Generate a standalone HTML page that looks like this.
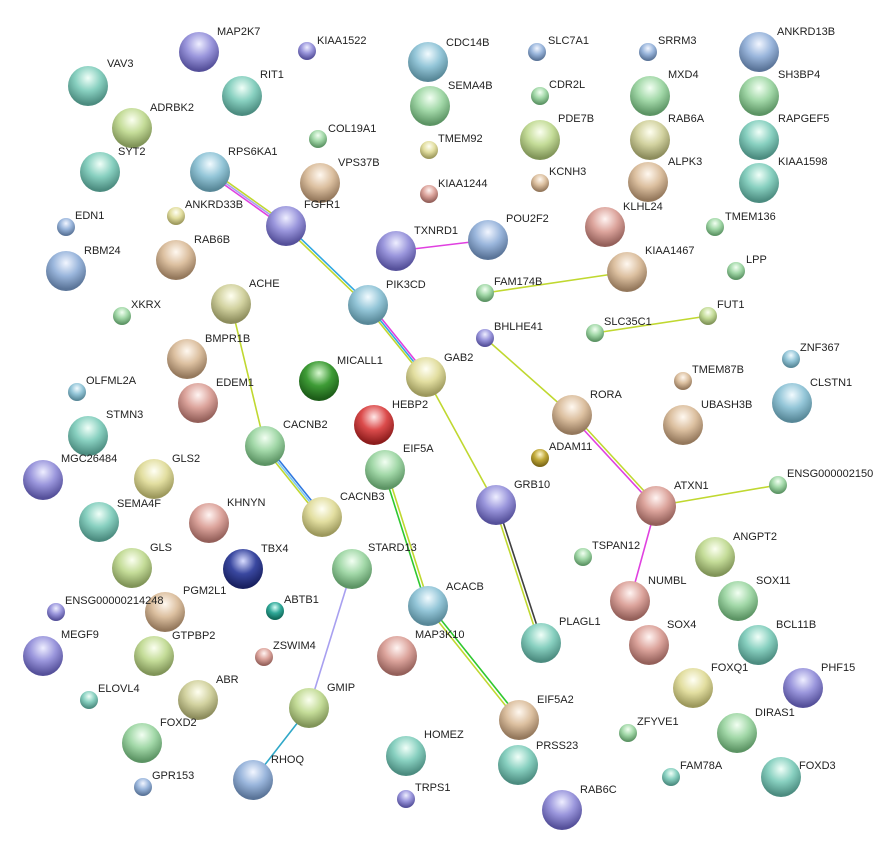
<!DOCTYPE html>
<html><head><meta charset="utf-8"><style>
html,body{margin:0;padding:0;background:#fff;}
svg{display:block;}
text{font-family:"Liberation Sans",Arial,sans-serif;font-size:11px;fill:#222;}
</style></head><body>
<svg width="873" height="856" viewBox="0 0 873 856" xmlns="http://www.w3.org/2000/svg">
<defs>
<radialGradient id="pu" cx="50%" cy="30%" r="65%"><stop offset="0" stop-color="#eeeeff"/><stop offset="0.5" stop-color="#9a96dc"/><stop offset="1" stop-color="#55509a"/></radialGradient>
<radialGradient id="bl" cx="50%" cy="30%" r="65%"><stop offset="0" stop-color="#f2f6ff"/><stop offset="0.5" stop-color="#9ab6dc"/><stop offset="1" stop-color="#5a7498"/></radialGradient>
<radialGradient id="tb" cx="50%" cy="30%" r="65%"><stop offset="0" stop-color="#f2fbff"/><stop offset="0.5" stop-color="#94c6d8"/><stop offset="1" stop-color="#588898"/></radialGradient>
<radialGradient id="te" cx="50%" cy="30%" r="65%"><stop offset="0" stop-color="#f0fff8"/><stop offset="0.5" stop-color="#88d0c0"/><stop offset="1" stop-color="#4c8c80"/></radialGradient>
<radialGradient id="gr" cx="50%" cy="30%" r="65%"><stop offset="0" stop-color="#f2fff2"/><stop offset="0.5" stop-color="#a2d8a8"/><stop offset="1" stop-color="#5c9464"/></radialGradient>
<radialGradient id="yg" cx="50%" cy="30%" r="65%"><stop offset="0" stop-color="#fbfff0"/><stop offset="0.5" stop-color="#c4dc98"/><stop offset="1" stop-color="#809458"/></radialGradient>
<radialGradient id="kh" cx="50%" cy="30%" r="65%"><stop offset="0" stop-color="#fffff0"/><stop offset="0.5" stop-color="#d2d2a0"/><stop offset="1" stop-color="#8c8c5c"/></radialGradient>
<radialGradient id="ye" cx="50%" cy="30%" r="65%"><stop offset="0" stop-color="#fffff4"/><stop offset="0.5" stop-color="#e2dea0"/><stop offset="1" stop-color="#9c985c"/></radialGradient>
<radialGradient id="ta" cx="50%" cy="30%" r="65%"><stop offset="0" stop-color="#fff8f0"/><stop offset="0.5" stop-color="#dcc0a0"/><stop offset="1" stop-color="#94785c"/></radialGradient>
<radialGradient id="sa" cx="50%" cy="30%" r="65%"><stop offset="0" stop-color="#fff4f2"/><stop offset="0.5" stop-color="#dca49c"/><stop offset="1" stop-color="#94605a"/></radialGradient>
<radialGradient id="re" cx="50%" cy="30%" r="65%"><stop offset="0" stop-color="#ffe8e8"/><stop offset="0.5" stop-color="#dc4c4c"/><stop offset="1" stop-color="#8c1c1c"/></radialGradient>
<radialGradient id="dg" cx="50%" cy="30%" r="65%"><stop offset="0" stop-color="#d8f8d0"/><stop offset="0.5" stop-color="#3e9c36"/><stop offset="1" stop-color="#1c5c18"/></radialGradient>
<radialGradient id="nv" cx="50%" cy="30%" r="65%"><stop offset="0" stop-color="#d8dcff"/><stop offset="0.5" stop-color="#3a48a0"/><stop offset="1" stop-color="#182060"/></radialGradient>
<radialGradient id="ol" cx="50%" cy="30%" r="65%"><stop offset="0" stop-color="#fff8d0"/><stop offset="0.5" stop-color="#c0a838"/><stop offset="1" stop-color="#7c6818"/></radialGradient>
<radialGradient id="at" cx="50%" cy="30%" r="65%"><stop offset="0" stop-color="#d8fff8"/><stop offset="0.5" stop-color="#30a898"/><stop offset="1" stop-color="#106858"/></radialGradient>
</defs>

<!-- edges -->
<g stroke-width="1.6" fill="none">
<line x1="211.2" y1="170.4" x2="287.2" y2="224.4" stroke="#c0d830"/>
<line x1="210" y1="172" x2="286" y2="226" stroke="#a8a0f0"/>
<line x1="208.8" y1="173.6" x2="284.8" y2="227.6" stroke="#e040e0"/>
<line x1="285.2" y1="226.9" x2="367.2" y2="305.9" stroke="#c0d830"/>
<line x1="286.8" y1="225.1" x2="368.8" y2="304.1" stroke="#30a8e0"/>
<line x1="366.4" y1="306.3" x2="424.4" y2="378.3" stroke="#c0d830"/>
<line x1="368" y1="305" x2="426" y2="377" stroke="#30a8e0"/>
<line x1="369.6" y1="303.7" x2="427.6" y2="375.7" stroke="#e040e0"/>
<line x1="426" y1="377" x2="496" y2="505" stroke="#c0d830"/>
<line x1="494.6" y1="505.5" x2="539.6" y2="643.5" stroke="#c0d830"/>
<line x1="497.4" y1="504.5" x2="542.4" y2="642.5" stroke="#404040"/>
<line x1="383.6" y1="470.5" x2="426.6" y2="606.5" stroke="#30c830"/>
<line x1="386.4" y1="469.5" x2="429.4" y2="605.5" stroke="#c0d830"/>
<line x1="426.8" y1="607" x2="517.8" y2="721" stroke="#c0d830"/>
<line x1="429.2" y1="605" x2="520.2" y2="719" stroke="#30c830"/>
<line x1="263.4" y1="447.3" x2="320.4" y2="518.3" stroke="#c0d830"/>
<line x1="265" y1="446" x2="322" y2="517" stroke="#80c8f0"/>
<line x1="266.6" y1="444.7" x2="323.6" y2="515.7" stroke="#3078e0"/>
<line x1="231" y1="304" x2="265" y2="446" stroke="#c0d830"/>
<line x1="396" y1="251" x2="488" y2="240" stroke="#e040e0"/>
<line x1="485" y1="293" x2="627" y2="272" stroke="#c0d830"/>
<line x1="595" y1="333" x2="708" y2="316" stroke="#c0d830"/>
<line x1="485" y1="338" x2="572" y2="415" stroke="#c0d830"/>
<line x1="571" y1="416" x2="655" y2="507" stroke="#e040e0"/>
<line x1="573" y1="414" x2="657" y2="505" stroke="#c0d830"/>
<line x1="656" y1="506" x2="778" y2="485" stroke="#c0d830"/>
<line x1="656" y1="506" x2="630" y2="601" stroke="#e040e0"/>
<line x1="352" y1="569" x2="309" y2="708" stroke="#a8a0f0"/>
<line x1="309" y1="708" x2="253" y2="780" stroke="#30a8c8"/>
</g>

<!-- nodes -->
<g stroke="none">
<circle cx="199" cy="52" r="20" fill="url(#pu)"/>
<circle cx="307" cy="51" r="9" fill="url(#pu)"/>
<circle cx="428" cy="62" r="20" fill="url(#tb)"/>
<circle cx="537" cy="52" r="9" fill="url(#bl)"/>
<circle cx="648" cy="52" r="9" fill="url(#bl)"/>
<circle cx="759" cy="52" r="20" fill="url(#bl)"/>
<circle cx="88" cy="86" r="20" fill="url(#te)"/>
<circle cx="242" cy="96" r="20" fill="url(#te)"/>
<circle cx="430" cy="106" r="20" fill="url(#gr)"/>
<circle cx="540" cy="96" r="9" fill="url(#gr)"/>
<circle cx="650" cy="96" r="20" fill="url(#gr)"/>
<circle cx="759" cy="96" r="20" fill="url(#gr)"/>
<circle cx="132" cy="128" r="20" fill="url(#yg)"/>
<circle cx="318" cy="139" r="9" fill="url(#gr)"/>
<circle cx="540" cy="140" r="20" fill="url(#yg)"/>
<circle cx="650" cy="140" r="20" fill="url(#kh)"/>
<circle cx="759" cy="140" r="20" fill="url(#te)"/>
<circle cx="100" cy="172" r="20" fill="url(#te)"/>
<circle cx="210" cy="172" r="20" fill="url(#tb)"/>
<circle cx="320" cy="183" r="20" fill="url(#ta)"/>
<circle cx="429" cy="150" r="9" fill="url(#ye)"/>
<circle cx="540" cy="183" r="9" fill="url(#ta)"/>
<circle cx="648" cy="182" r="20" fill="url(#ta)"/>
<circle cx="759" cy="183" r="20" fill="url(#te)"/>
<circle cx="429" cy="194" r="9" fill="url(#sa)"/>
<circle cx="176" cy="216" r="9" fill="url(#ye)"/>
<circle cx="286" cy="226" r="20" fill="url(#pu)"/>
<circle cx="396" cy="251" r="20" fill="url(#pu)"/>
<circle cx="488" cy="240" r="20" fill="url(#bl)"/>
<circle cx="605" cy="227" r="20" fill="url(#sa)"/>
<circle cx="715" cy="227" r="9" fill="url(#gr)"/>
<circle cx="66" cy="227" r="9" fill="url(#bl)"/>
<circle cx="66" cy="271" r="20" fill="url(#bl)"/>
<circle cx="176" cy="260" r="20" fill="url(#ta)"/>
<circle cx="627" cy="272" r="20" fill="url(#ta)"/>
<circle cx="736" cy="271" r="9" fill="url(#gr)"/>
<circle cx="485" cy="293" r="9" fill="url(#gr)"/>
<circle cx="231" cy="304" r="20" fill="url(#kh)"/>
<circle cx="122" cy="316" r="9" fill="url(#gr)"/>
<circle cx="368" cy="305" r="20" fill="url(#tb)"/>
<circle cx="708" cy="316" r="9" fill="url(#yg)"/>
<circle cx="595" cy="333" r="9" fill="url(#gr)"/>
<circle cx="485" cy="338" r="9" fill="url(#pu)"/>
<circle cx="187" cy="359" r="20" fill="url(#ta)"/>
<circle cx="791" cy="359" r="9" fill="url(#tb)"/>
<circle cx="319" cy="381" r="20" fill="url(#dg)"/>
<circle cx="426" cy="377" r="20" fill="url(#ye)"/>
<circle cx="683" cy="381" r="9" fill="url(#ta)"/>
<circle cx="77" cy="392" r="9" fill="url(#tb)"/>
<circle cx="198" cy="403" r="20" fill="url(#sa)"/>
<circle cx="572" cy="415" r="20" fill="url(#ta)"/>
<circle cx="792" cy="403" r="20" fill="url(#tb)"/>
<circle cx="374" cy="425" r="20" fill="url(#re)"/>
<circle cx="683" cy="425" r="20" fill="url(#ta)"/>
<circle cx="88" cy="436" r="20" fill="url(#te)"/>
<circle cx="540" cy="458" r="9" fill="url(#ol)"/>
<circle cx="265" cy="446" r="20" fill="url(#gr)"/>
<circle cx="385" cy="470" r="20" fill="url(#gr)"/>
<circle cx="43" cy="480" r="20" fill="url(#pu)"/>
<circle cx="154" cy="479" r="20" fill="url(#ye)"/>
<circle cx="778" cy="485" r="9" fill="url(#gr)"/>
<circle cx="496" cy="505" r="20" fill="url(#pu)"/>
<circle cx="656" cy="506" r="20" fill="url(#sa)"/>
<circle cx="322" cy="517" r="20" fill="url(#ye)"/>
<circle cx="99" cy="522" r="20" fill="url(#te)"/>
<circle cx="209" cy="523" r="20" fill="url(#sa)"/>
<circle cx="583" cy="557" r="9" fill="url(#gr)"/>
<circle cx="715" cy="557" r="20" fill="url(#yg)"/>
<circle cx="352" cy="569" r="20" fill="url(#gr)"/>
<circle cx="243" cy="569" r="20" fill="url(#nv)"/>
<circle cx="132" cy="568" r="20" fill="url(#yg)"/>
<circle cx="56" cy="612" r="9" fill="url(#pu)"/>
<circle cx="165" cy="612" r="20" fill="url(#ta)"/>
<circle cx="275" cy="611" r="9" fill="url(#at)"/>
<circle cx="428" cy="606" r="20" fill="url(#tb)"/>
<circle cx="630" cy="601" r="20" fill="url(#sa)"/>
<circle cx="738" cy="601" r="20" fill="url(#gr)"/>
<circle cx="43" cy="656" r="20" fill="url(#pu)"/>
<circle cx="154" cy="656" r="20" fill="url(#yg)"/>
<circle cx="264" cy="657" r="9" fill="url(#sa)"/>
<circle cx="397" cy="656" r="20" fill="url(#sa)"/>
<circle cx="541" cy="643" r="20" fill="url(#te)"/>
<circle cx="649" cy="645" r="20" fill="url(#sa)"/>
<circle cx="758" cy="645" r="20" fill="url(#te)"/>
<circle cx="198" cy="700" r="20" fill="url(#kh)"/>
<circle cx="309" cy="708" r="20" fill="url(#yg)"/>
<circle cx="693" cy="688" r="20" fill="url(#ye)"/>
<circle cx="803" cy="688" r="20" fill="url(#pu)"/>
<circle cx="89" cy="700" r="9" fill="url(#te)"/>
<circle cx="519" cy="720" r="20" fill="url(#ta)"/>
<circle cx="628" cy="733" r="9" fill="url(#gr)"/>
<circle cx="737" cy="733" r="20" fill="url(#gr)"/>
<circle cx="142" cy="743" r="20" fill="url(#gr)"/>
<circle cx="406" cy="756" r="20" fill="url(#te)"/>
<circle cx="518" cy="765" r="20" fill="url(#te)"/>
<circle cx="253" cy="780" r="20" fill="url(#bl)"/>
<circle cx="671" cy="777" r="9" fill="url(#te)"/>
<circle cx="781" cy="777" r="20" fill="url(#te)"/>
<circle cx="143" cy="787" r="9" fill="url(#bl)"/>
<circle cx="406" cy="799" r="9" fill="url(#pu)"/>
<circle cx="562" cy="810" r="20" fill="url(#pu)"/>
</g>

<!-- labels -->
<g>
<text x="217" y="35">MAP2K7</text>
<text x="317" y="44">KIAA1522</text>
<text x="446" y="46">CDC14B</text>
<text x="548" y="44">SLC7A1</text>
<text x="658" y="44">SRRM3</text>
<text x="777" y="35">ANKRD13B</text>
<text x="107" y="67">VAV3</text>
<text x="260" y="78">RIT1</text>
<text x="448" y="89">SEMA4B</text>
<text x="549" y="88">CDR2L</text>
<text x="668" y="78">MXD4</text>
<text x="778" y="78">SH3BP4</text>
<text x="150" y="111">ADRBK2</text>
<text x="328" y="132">COL19A1</text>
<text x="558" y="122">PDE7B</text>
<text x="668" y="122">RAB6A</text>
<text x="778" y="122">RAPGEF5</text>
<text x="118" y="155">SYT2</text>
<text x="228" y="155">RPS6KA1</text>
<text x="338" y="166">VPS37B</text>
<text x="438" y="142">TMEM92</text>
<text x="549" y="175">KCNH3</text>
<text x="668" y="165">ALPK3</text>
<text x="778" y="165">KIAA1598</text>
<text x="438" y="187">KIAA1244</text>
<text x="185" y="208">ANKRD33B</text>
<text x="304" y="208">FGFR1</text>
<text x="414" y="234">TXNRD1</text>
<text x="506" y="222">POU2F2</text>
<text x="623" y="210">KLHL24</text>
<text x="725" y="220">TMEM136</text>
<text x="75" y="219">EDN1</text>
<text x="84" y="254">RBM24</text>
<text x="194" y="243">RAB6B</text>
<text x="645" y="254">KIAA1467</text>
<text x="746" y="263">LPP</text>
<text x="494" y="285">FAM174B</text>
<text x="249" y="287">ACHE</text>
<text x="131" y="308">XKRX</text>
<text x="386" y="288">PIK3CD</text>
<text x="717" y="308">FUT1</text>
<text x="604" y="325">SLC35C1</text>
<text x="494" y="330">BHLHE41</text>
<text x="205" y="342">BMPR1B</text>
<text x="800" y="351">ZNF367</text>
<text x="337" y="364">MICALL1</text>
<text x="444" y="361">GAB2</text>
<text x="692" y="373">TMEM87B</text>
<text x="86" y="384">OLFML2A</text>
<text x="216" y="386">EDEM1</text>
<text x="590" y="398">RORA</text>
<text x="810" y="386">CLSTN1</text>
<text x="392" y="408">HEBP2</text>
<text x="701" y="408">UBASH3B</text>
<text x="106" y="418">STMN3</text>
<text x="549" y="450">ADAM11</text>
<text x="283" y="428">CACNB2</text>
<text x="403" y="452">EIF5A</text>
<text x="61" y="462">MGC26484</text>
<text x="172" y="462">GLS2</text>
<text x="787" y="477">ENSG000002150</text>
<text x="514" y="488">GRB10</text>
<text x="674" y="489">ATXN1</text>
<text x="340" y="500">CACNB3</text>
<text x="117" y="507">SEMA4F</text>
<text x="227" y="506">KHNYN</text>
<text x="592" y="549">TSPAN12</text>
<text x="733" y="540">ANGPT2</text>
<text x="368" y="551">STARD13</text>
<text x="261" y="552">TBX4</text>
<text x="150" y="551">GLS</text>
<text x="65" y="604">ENSG00000214248</text>
<text x="183" y="594">PGM2L1</text>
<text x="284" y="603">ABTB1</text>
<text x="446" y="590">ACACB</text>
<text x="648" y="584">NUMBL</text>
<text x="756" y="584">SOX11</text>
<text x="61" y="638">MEGF9</text>
<text x="172" y="639">GTPBP2</text>
<text x="273" y="649">ZSWIM4</text>
<text x="415" y="638">MAP3K10</text>
<text x="559" y="625">PLAGL1</text>
<text x="667" y="628">SOX4</text>
<text x="776" y="628">BCL11B</text>
<text x="216" y="683">ABR</text>
<text x="327" y="691">GMIP</text>
<text x="711" y="671">FOXQ1</text>
<text x="821" y="671">PHF15</text>
<text x="98" y="692">ELOVL4</text>
<text x="537" y="703">EIF5A2</text>
<text x="637" y="725">ZFYVE1</text>
<text x="755" y="716">DIRAS1</text>
<text x="160" y="726">FOXD2</text>
<text x="424" y="738">HOMEZ</text>
<text x="536" y="749">PRSS23</text>
<text x="271" y="763">RHOQ</text>
<text x="680" y="769">FAM78A</text>
<text x="799" y="769">FOXD3</text>
<text x="152" y="779">GPR153</text>
<text x="415" y="791">TRPS1</text>
<text x="580" y="793">RAB6C</text>
</g>
</svg>
</body></html>
